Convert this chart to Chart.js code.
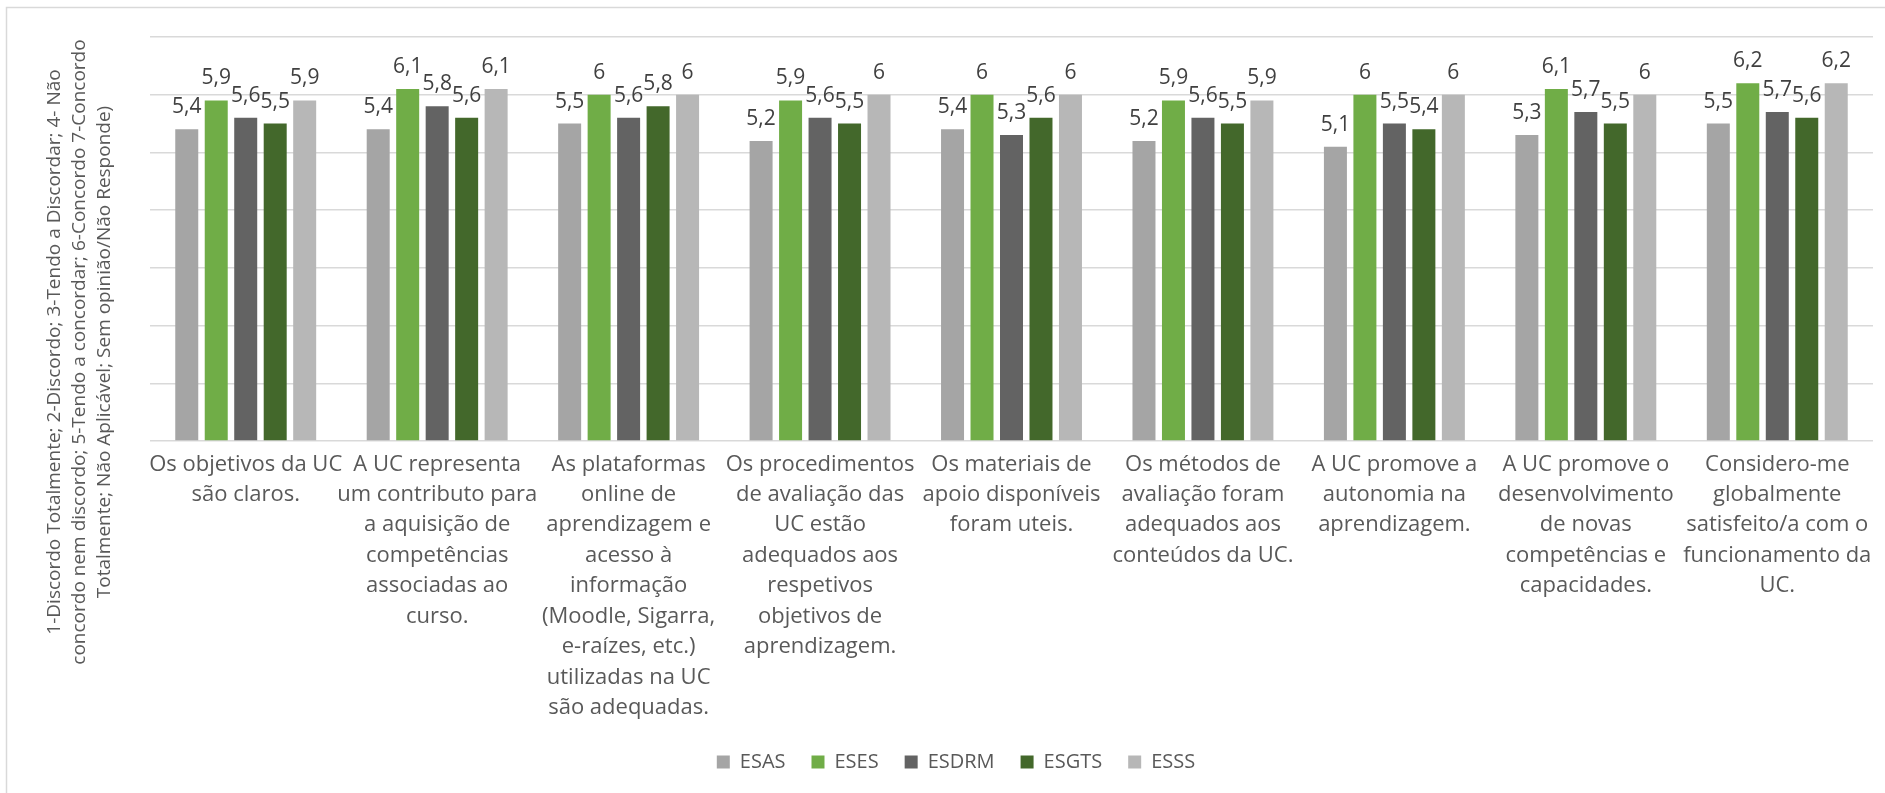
<!DOCTYPE html>
<html>
<head>
<meta charset="utf-8">
<script src="https://cdn.jsdelivr.net/npm/chart.js@4.4.0/dist/chart.umd.min.js"></script>
<style>
  html, body { margin: 0; padding: 0; background: #fff; }
  #wrap { width: 1885px; height: 793px; position: relative; }
</style>
</head>
<body>
<div id="wrap"><canvas id="chart" width="1885" height="793"></canvas></div>
<script>
// categories (pre-wrapped, as in the source chart)
const categories = [
    ["Os objetivos da UC", "são claros."],
    ["A UC representa", "um contributo para", "a aquisição de", "competências", "associadas ao", "curso."],
    ["As plataformas", "online de", "aprendizagem e", "acesso à", "informação", "(Moodle, Sigarra,", "e-raízes, etc.)", "utilizadas na UC", "são adequadas."],
    ["Os procedimentos", "de avaliação das", "UC estão", "adequados aos", "respetivos", "objetivos de", "aprendizagem."],
    ["Os materiais de", "apoio disponíveis", "foram uteis."],
    ["Os métodos de", "avaliação foram", "adequados aos", "conteúdos da UC."],
    ["A UC promove a", "autonomia na", "aprendizagem."],
    ["A UC promove o", "desenvolvimento", "de novas", "competências e", "capacidades."],
    ["Considero-me", "globalmente", "satisfeito/a com o", "funcionamento da", "UC."]
];

const esas  = [5.4, 5.4, 5.5, 5.2, 5.4, 5.2, 5.1, 5.3, 5.5];
const eses  = [5.9, 6.1, 6.0, 5.9, 6.0, 5.9, 6.0, 6.1, 6.2];
const esdrm = [5.6, 5.8, 5.6, 5.6, 5.3, 5.6, 5.5, 5.7, 5.7];
const esgts = [5.5, 5.6, 5.8, 5.5, 5.6, 5.5, 5.4, 5.5, 5.6];
const esss  = [5.9, 6.1, 6.0, 6.0, 6.0, 5.9, 6.0, 6.0, 6.2];

const yTitle = [
    "1-Discordo Totalmente; 2-Discordo; 3-Tendo a Discordar; 4- Não",
    "concordo nem discordo; 5-Tendo a concordar; 6-Concordo 7-Concordo",
    "Totalmente; Não Aplicável; Sem opinião/Não Responde)"
];

const FONT = "'Open Sans', 'DejaVu Sans', sans-serif";

// value labels above each bar, comma decimal
const valueLabels = {
    id: 'valueLabels',
    afterDatasetsDraw(chart) {
        const ctx = chart.ctx;
        ctx.save();
        ctx.font = "21px " + FONT;
        ctx.fillStyle = '#404040';
        ctx.textAlign = 'center';
        ctx.textBaseline = 'alphabetic';
        chart.data.datasets.forEach((ds, i) => {
            chart.getDatasetMeta(i).data.forEach((bar, j) => {
                const txt = String(ds.data[j]).replace('.', ',');
                ctx.fillText(txt, bar.x, bar.y - 16);
            });
        });
        ctx.restore();
    }
};

// rotated axis title + outer frame
const frame = {
    id: 'frame',
    afterDraw(chart) {
        const ctx = chart.ctx;
        ctx.save();
        ctx.strokeStyle = '#D9D9D9';
        ctx.lineWidth = 1.5;
        ctx.strokeRect(6.5, 7.5, 1900, 800);
        ctx.translate(0, 352);
        ctx.rotate(-Math.PI / 2);
        ctx.font = "19px " + FONT;
        ctx.fillStyle = '#595959';
        ctx.textAlign = 'center';
        ctx.textBaseline = 'middle';
        const xs = [55, 80, 105];
        yTitle.forEach((line, k) => ctx.fillText(line, 0, xs[k]));
        ctx.restore();
    }
};

new Chart(document.getElementById('chart'), {
    type: 'bar',
    data: {
        labels: categories,
        datasets: [
            { label: 'ESAS',  data: esas,  backgroundColor: '#A5A5A5' },
            { label: 'ESES',  data: eses,  backgroundColor: '#70AD47' },
            { label: 'ESDRM', data: esdrm, backgroundColor: '#636363' },
            { label: 'ESGTS', data: esgts, backgroundColor: '#43682B' },
            { label: 'ESSS',  data: esss,  backgroundColor: '#B7B7B7' }
        ]
    },
    options: {
        responsive: false,
        animation: false,
        devicePixelRatio: 1,
        layout: { padding: { left: 39, right: 12, top: 37, bottom: 11 } },
        datasets: { bar: { barPercentage: 0.78, categoryPercentage: 0.77 } },
        scales: {
            x: {
                grid: { display: false },
                border: { display: false },
                ticks: {
                    color: '#595959',
                    font: { family: FONT, size: 22, lineHeight: 1.386 },
                    maxRotation: 0,
                    autoSkip: false,
                    padding: 0
                },
                afterFit(scale) { scale.height = 285; }
            },
            y: {
                min: 0, max: 7,
                ticks: { display: false, stepSize: 1 },
                border: { display: false },
                grid: { color: '#D9D9D9', lineWidth: 1.5, drawTicks: false },
                afterFit(scale) { scale.width = 111; }
            }
        },
        plugins: {
            tooltip: { enabled: false },
            legend: {
                position: 'bottom',
                labels: {
                    color: '#595959',
                    font: { family: FONT, size: 20 },
                    boxWidth: 13,
                    boxHeight: 13,
                    padding: 26
                }
            }
        }
    },
    plugins: [valueLabels, frame]
});
</script>
</body>
</html>
